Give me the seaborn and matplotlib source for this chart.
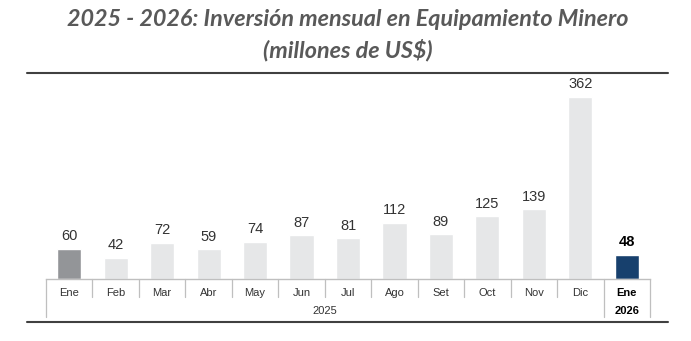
import matplotlib
matplotlib.use("Agg")
import matplotlib.pyplot as plt
import matplotlib.transforms as mtransforms
from matplotlib.lines import Line2D
import seaborn as sns
import pandas as pd

# ---- data ----
months = ["Ene", "Feb", "Mar", "Abr", "May", "Jun", "Jul", "Ago", "Set", "Oct", "Nov", "Dic", "Ene"]
years = ["2025"] * 12 + ["2026"]
values = [60, 42, 72, 59, 74, 87, 81, 112, 89, 125, 139, 362, 48]
title_lines = ["2025 - 2026: Inversión mensual en Equipamiento Minero", "(millones de US$)"]

keys = [f"{m} {y}" for m, y in zip(months, years)]
colors = ["#939598"] + ["#E6E7E8"] * 11 + ["#17406D"]
df = pd.DataFrame({"key": keys, "value": values})

sns.set_style("white")
plt.rcParams["font.family"] = ["Liberation Sans Narrow", "Liberation Sans", "DejaVu Sans"]

W, H = 691, 341
fig = plt.figure(figsize=(W / 100, H / 100), dpi=100)
ax_left, ax_right = 46, 650
ax_base, ax_top = 279, 75
ax = fig.add_axes([ax_left / W, (H - ax_base) / H, (ax_right - ax_left) / W, (ax_base - ax_top) / H])

sns.barplot(data=df, x="key", y="value", hue="key", palette=colors, legend=False,
            width=0.52, ax=ax, saturation=1)

px_per_unit = 182 / 362
ax.set_ylim(0, (ax_base - ax_top) / px_per_unit)
ax.set_xlim(-0.5, len(values) - 0.5)
ax.set_xticks([])
ax.set_yticks([])
ax.set_xlabel("")
ax.set_ylabel("")
for s in ["top", "right", "left"]:
    ax.spines[s].set_visible(False)
ax.spines["bottom"].set_color("#BFBFBF")
ax.spines["bottom"].set_linewidth(1.0)

# value labels
for i, cont in enumerate(ax.containers):
    last = (i == len(ax.containers) - 1)
    ax.bar_label(cont, fmt="%d", padding=4, fontsize=10.5,
                 color="#000000" if last else "#333333",
                 fontweight="bold" if last else "normal")

trans = mtransforms.blended_transform_factory(ax.transData, ax.transAxes)
ah = ax_base - ax_top
short = -18 / ah
long_ = -38 / ah
for b in range(len(values) + 1):
    xb = b - 0.5
    ylow = long_ if b in (0, 12, 13) else short
    ax.plot([xb, xb], [0, ylow], color="#BFBFBF", lw=0.9, transform=trans, clip_on=False)

for i, m in enumerate(months):
    last = (i == len(months) - 1)
    ax.text(i, -14 / ah, m, transform=trans, ha="center", va="center", fontsize=8,
            color="#000000" if last else "#333333", fontweight="bold" if last else "normal")
ax.text(5.5, -32 / ah, "2025", transform=trans, ha="center", va="center", fontsize=8, color="#333333")
ax.text(12, -32 / ah, "2026", transform=trans, ha="center", va="center", fontsize=8,
        color="#000000", fontweight="bold")

# title
for j, t in enumerate(title_lines):
    fig.text(348 / W, 1 - (20 + j * 30) / H, t, ha="center", va="center", fontsize=16.8,
             fontweight="bold", fontstyle="italic", color="#595959",
             family=["Lato", "DejaVu Sans"])

# rules
for y in (73, 322):
    fig.add_artist(Line2D([27 / W, 668 / W], [1 - y / H, 1 - y / H], color="#404040", lw=1.5,
                          transform=fig.transFigure))

fig.savefig("out.png", dpi=100)
